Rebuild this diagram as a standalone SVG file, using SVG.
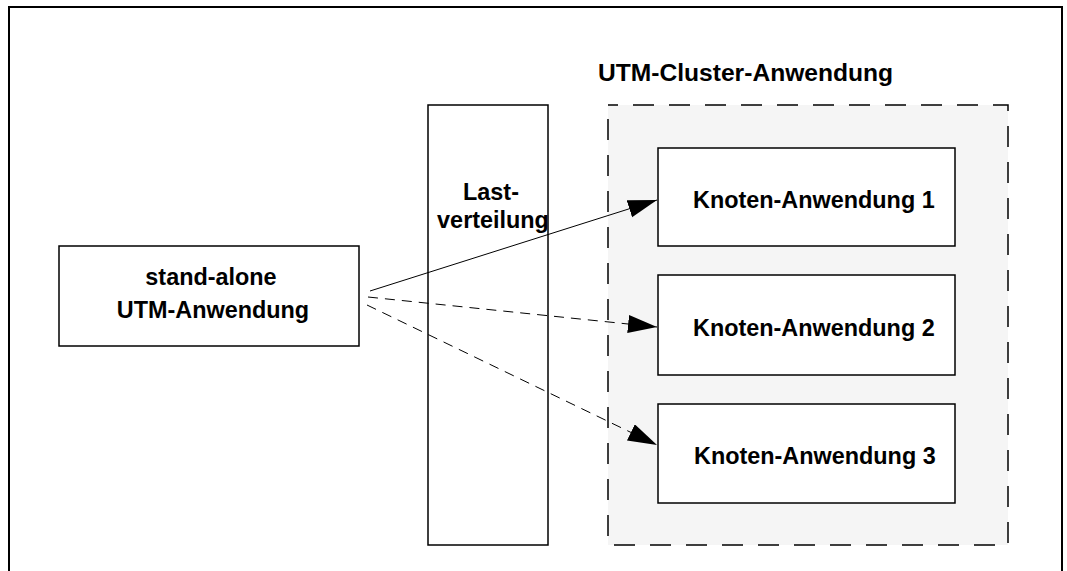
<svg xmlns="http://www.w3.org/2000/svg" width="1067" height="571" viewBox="0 0 1067 571">
  <style>
    .lbl { font-family: "Liberation Sans", Arial, sans-serif; font-weight: bold; font-size: 23.4px; fill: #000; }
    .title { font-size: 24.6px; }
    .box { fill: #fff; stroke: #000; stroke-width: 1.5; }
    .conn { fill: none; stroke: #000; stroke-width: 1; }
    .dash { stroke-dasharray: 10 7; }
  </style>
  <defs>
    <marker id="arrow" markerUnits="userSpaceOnUse" markerWidth="32" markerHeight="20" refX="29" refY="9" orient="auto">
      <path d="M0,0 L29,9 L0,18 Z" fill="#000"/>
    </marker>
  </defs>
  <rect x="0" y="0" width="1067" height="571" fill="#fff"/>
  <path d="M9,571 L9,7 L1062,7 L1062,571" fill="none" stroke="#000" stroke-width="2"/>

  <g id="cluster">
    <rect x="608" y="105" width="400" height="440" fill="#f5f5f5" stroke="#000" stroke-width="1.5" stroke-dasharray="21 15" stroke-dashoffset="11"/>
    <text class="lbl title" x="598" y="81">UTM-Cluster-Anwendung</text>
  </g>

  <g id="standalone">
    <rect class="box" x="59" y="246" width="300" height="100"/>
    <text class="lbl" x="211" y="285" text-anchor="middle">stand-alone</text>
    <text class="lbl" x="213" y="318" text-anchor="middle">UTM-Anwendung</text>
  </g>

  <g id="lastverteilung">
    <rect class="box" x="428" y="105" width="120" height="440"/>
    <text class="lbl" x="491" y="200" text-anchor="middle">Last-</text>
    <text class="lbl" x="493" y="228" text-anchor="middle">verteilung</text>
  </g>

  <g id="knoten1">
    <rect class="box" x="658" y="148" width="297" height="98"/>
    <text class="lbl" x="693" y="208">Knoten-Anwendung 1</text>
  </g>
  <g id="knoten2">
    <rect class="box" x="658" y="275" width="297" height="100"/>
    <text class="lbl" x="693" y="336">Knoten-Anwendung 2</text>
  </g>
  <g id="knoten3">
    <rect class="box" x="658" y="404" width="297" height="99"/>
    <text class="lbl" x="694" y="464">Knoten-Anwendung 3</text>
  </g>

  <g id="connectors">
    <line class="conn" x1="370" y1="291" x2="657" y2="200" marker-end="url(#arrow)"/>
    <line class="conn dash" x1="368" y1="297" x2="657" y2="327" marker-end="url(#arrow)"/>
    <line class="conn dash" x1="367" y1="305" x2="657" y2="445" marker-end="url(#arrow)"/>
  </g>
</svg>
